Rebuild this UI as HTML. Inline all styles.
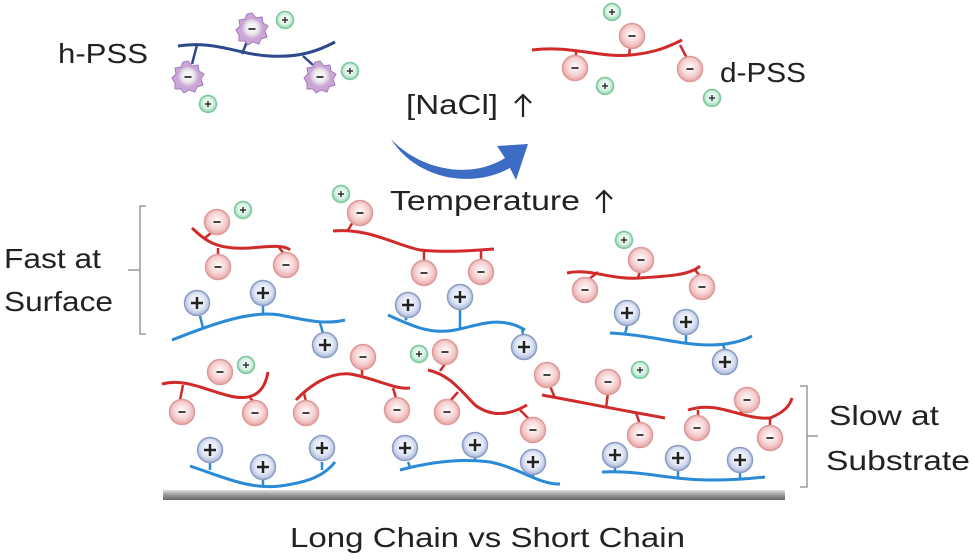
<!DOCTYPE html>
<html><head><meta charset="utf-8"><style>
html,body{margin:0;padding:0;background:#fff}
svg{display:block}
text{font-family:"Liberation Sans",sans-serif;fill:#222}
</style></head><body>
<svg width="974" height="560" viewBox="0 0 974 560" xmlns="http://www.w3.org/2000/svg">
<defs>
<radialGradient id="gn" cx="50%" cy="45%" r="55%"><stop offset="0" stop-color="#fff"/><stop offset="0.6" stop-color="#f6d2d2"/><stop offset="1" stop-color="#e8a4a4"/></radialGradient>
<radialGradient id="gp" cx="50%" cy="45%" r="55%"><stop offset="0" stop-color="#fff"/><stop offset="0.6" stop-color="#dfe5f4"/><stop offset="1" stop-color="#a8b6d8"/></radialGradient>
<radialGradient id="gc" cx="50%" cy="45%" r="55%"><stop offset="0" stop-color="#fff"/><stop offset="0.6" stop-color="#d6f2e2"/><stop offset="1" stop-color="#8fd2ac"/></radialGradient>
<radialGradient id="gh" cx="50%" cy="45%" r="55%"><stop offset="0" stop-color="#fff"/><stop offset="0.5" stop-color="#eee"/><stop offset="1" stop-color="#c9a6d6"/></radialGradient>
<linearGradient id="bar" x1="0" y1="0" x2="0" y2="1"><stop offset="0" stop-color="#e0e0e0"/><stop offset="0.5" stop-color="#999"/><stop offset="1" stop-color="#666"/></linearGradient>
<g id="neg"><circle r="12.5" fill="url(#gn)" stroke="#d99" stroke-width="1.5"/><line x1="-3.5" y1="0" x2="3.5" y2="0" stroke="#444" stroke-width="2"/></g>
<g id="pos"><circle r="12.5" fill="url(#gp)" stroke="#8c9cc4" stroke-width="1.5"/><line x1="-6" y1="0" x2="6" y2="0" stroke="#222" stroke-width="2.5"/><line x1="0" y1="-6" x2="0" y2="6" stroke="#222" stroke-width="2.5"/></g>
<g id="cat"><circle r="8.5" fill="url(#gc)" stroke="#7cc79c" stroke-width="1.5"/><line x1="-3" y1="0" x2="3" y2="0" stroke="#333" stroke-width="1.5"/><line x1="0" y1="-3" x2="0" y2="3" stroke="#333" stroke-width="1.5"/></g>
<g id="hn"><polygon points="0,-16 4,-11 10,-12 11,-6 16,-3 13,2 15,8 9,10 7,15 1,13 -4,16 -7,12 -13,12 -13,6 -16,1 -12,-3 -13,-9 -7,-10 -5,-15" fill="#c9a6d6" stroke="#a07ab8" stroke-width="1"/><circle r="10" fill="url(#gh)"/><line x1="-3.5" y1="0" x2="3.5" y2="0" stroke="#444" stroke-width="2"/></g>
<g id="up"><path d="M0,0 L0,22 M-8,8 L0,0 L8,8" fill="none" stroke="#222" stroke-width="2.2"/></g>
</defs>

<!-- h-PSS -->
<text x="58" y="63" font-size="28" textLength="90" lengthAdjust="spacingAndGlyphs">h-PSS</text>
<path d="M178,46 C215,40 240,55 270,56 C300,58 320,50 335,42" fill="none" stroke="#2d4a8a" stroke-width="3"/>
<path d="M197,45 L192,64 M248,39 L242,54 M303,56 L313,65" stroke="#2d4a8a" stroke-width="2.5" fill="none"/>
<use href="#hn" x="252" y="29"/><use href="#hn" x="188" y="77"/><use href="#hn" x="320" y="77"/>
<use href="#cat" x="285" y="20"/><use href="#cat" x="350" y="71"/><use href="#cat" x="208" y="104"/>

<!-- d-PSS -->
<text x="720" y="82" font-size="28" textLength="86" lengthAdjust="spacingAndGlyphs">d-PSS</text>
<path d="M532,50 C570,45 600,58 630,55 C655,53 670,46 682,40" fill="none" stroke="#d02a2a" stroke-width="3"/>
<path d="M629,55 L630,48 M576,50 L576,60 M680,45 L688,60" stroke="#d02a2a" stroke-width="2.5"/>
<use href="#neg" x="632" y="36"/><use href="#neg" x="575" y="68"/><use href="#neg" x="690" y="69"/>
<use href="#cat" x="612" y="12"/><use href="#cat" x="605" y="86"/><use href="#cat" x="712" y="98"/>

<text x="406" y="114" font-size="28" textLength="92" lengthAdjust="spacingAndGlyphs">[NaCl]</text>
<use href="#up" x="523" y="95"/>
<path d="M391,139 C420,170 470,180 505,158 L497,146 L528,144 L516,180 L510,168 C470,190 415,178 391,139 Z" fill="#3d6cc4"/>
<text x="390" y="210" font-size="28" textLength="190" lengthAdjust="spacingAndGlyphs">Temperature</text>
<use href="#up" x="604" y="191"/>

<!-- brackets -->
<path d="M146,206 L140,206 L140,334 L146,334 M140,270 L128,270" fill="none" stroke="#999" stroke-width="1.5"/>
<text x="4" y="268" font-size="28" textLength="97" lengthAdjust="spacingAndGlyphs">Fast at</text>
<text x="4" y="311" font-size="28" textLength="109" lengthAdjust="spacingAndGlyphs">Surface</text>
<path d="M800,386 L807,386 L807,487 L800,487 M807,436 L818,436" fill="none" stroke="#999" stroke-width="1.5"/>
<text x="829" y="425" font-size="28" textLength="110" lengthAdjust="spacingAndGlyphs">Slow at</text>
<text x="826" y="470" font-size="28" textLength="144" lengthAdjust="spacingAndGlyphs">Substrate</text>

<!-- red chains -->
<g fill="none" stroke="#d02a2a" stroke-width="3">
<path d="M192,228 C205,240 215,250 250,248 C270,246 285,245 290,250"/>
<path d="M333,231 C370,228 395,245 420,250 C450,253 480,250 494,249"/>
<path d="M567,273 C590,268 610,280 640,278 C670,276 690,275 700,266"/>
<path d="M162,384 C185,378 205,390 230,396 C255,402 265,390 268,372"/>
<path d="M296,400 C310,385 330,372 350,374 C375,378 395,390 410,388"/>
<path d="M428,370 C450,375 460,390 475,405 C495,420 515,412 527,405"/>
<path d="M542,395 C580,402 620,410 665,418"/>
<path d="M688,410 C720,400 740,420 770,418 C785,412 790,405 792,398"/>
</g>
<g stroke="#d02a2a" stroke-width="2.5">
<path d="M205,238 L212,232 M218,248 L218,256 M278,246 L284,254 M348,230 L353,222 M424,251 L424,262 M481,250 L481,261 M598,272 L588,280 M638,278 L640,271 M695,270 L700,276"/>
<path d="M183,385 L180,400 M218,382 L218,385 M250,398 L254,402 M304,393 L306,402 M362,375 L362,368 M393,388 L396,398"/>
<path d="M440,371 L445,364 M458,392 L450,401 M520,410 L530,420 M555,398 L550,386 M606,408 L608,393 M636,413 L640,424"/>
<path d="M698,410 L698,417 M740,412 L745,411 M770,418 L770,426"/>
</g>
<use href="#neg" x="217" y="222"/><use href="#neg" x="218" y="267"/><use href="#neg" x="286" y="265"/><use href="#cat" x="243" y="210"/>
<use href="#neg" x="360" y="213"/><use href="#neg" x="424" y="273"/><use href="#neg" x="481" y="272"/><use href="#cat" x="341" y="194"/>
<use href="#neg" x="641" y="260"/><use href="#neg" x="585" y="290"/><use href="#neg" x="702" y="287"/><use href="#cat" x="624" y="240"/>
<use href="#neg" x="220" y="372"/><use href="#neg" x="182" y="412"/><use href="#neg" x="255" y="413"/><use href="#cat" x="246" y="365"/>
<use href="#neg" x="363" y="357"/><use href="#neg" x="306" y="413"/><use href="#neg" x="397" y="410"/>
<use href="#neg" x="445" y="352"/><use href="#neg" x="447" y="412"/><use href="#neg" x="533" y="430"/><use href="#cat" x="419" y="354"/>
<use href="#neg" x="547" y="375"/><use href="#neg" x="608" y="382"/><use href="#neg" x="640" y="435"/><use href="#cat" x="640" y="370"/>
<use href="#neg" x="747" y="400"/><use href="#neg" x="697" y="428"/><use href="#neg" x="770" y="438"/>

<!-- blue chains -->
<g fill="none" stroke="#2a8ad6" stroke-width="3">
<path d="M172,340 C210,325 250,310 280,315 C305,320 325,325 345,320"/>
<path d="M388,315 C410,325 430,335 455,330 C480,325 500,315 525,330"/>
<path d="M610,333 C650,335 680,345 710,345 C730,345 745,340 752,336"/>
<path d="M190,466 C220,476 250,490 280,486 C310,482 325,475 335,462"/>
<path d="M400,470 C430,462 460,458 490,462 C520,468 540,485 560,484"/>
<path d="M602,472 C640,470 670,480 710,480 C740,480 755,478 765,477"/>
</g>
<g stroke="#2a8ad6" stroke-width="2.5">
<path d="M200,316 L203,328 M263,306 L263,313 M320,323 L323,333 M405,318 L407,320 M460,310 L460,328 M522,328 L523,335"/>
<path d="M627,326 L625,334 M686,335 L686,342 M723,345 L725,350 M210,462 L210,470 M263,480 L263,487 M322,462 L322,470"/>
<path d="M410,467 L408,462 M475,458 L475,460 M533,475 L533,478 M615,468 L615,472 M678,471 L678,478 M740,473 L740,478"/>
</g>
<use href="#pos" x="197" y="303"/><use href="#pos" x="263" y="293"/><use href="#pos" x="325" y="345"/>
<use href="#pos" x="408" y="305"/><use href="#pos" x="460" y="297"/><use href="#pos" x="524" y="347"/>
<use href="#pos" x="627" y="313"/><use href="#pos" x="686" y="322"/><use href="#pos" x="725" y="362"/>
<use href="#pos" x="210" y="450"/><use href="#pos" x="263" y="467"/><use href="#pos" x="322" y="448"/>
<use href="#pos" x="405" y="448"/><use href="#pos" x="475" y="445"/><use href="#pos" x="533" y="462"/>
<use href="#pos" x="615" y="455"/><use href="#pos" x="678" y="458"/><use href="#pos" x="740" y="460"/>

<!-- substrate -->
<rect x="163" y="490" width="622" height="10" fill="url(#bar)"/>
<text x="290" y="547" font-size="28" textLength="395" lengthAdjust="spacingAndGlyphs">Long Chain vs Short Chain</text>
</svg>
</body></html>
